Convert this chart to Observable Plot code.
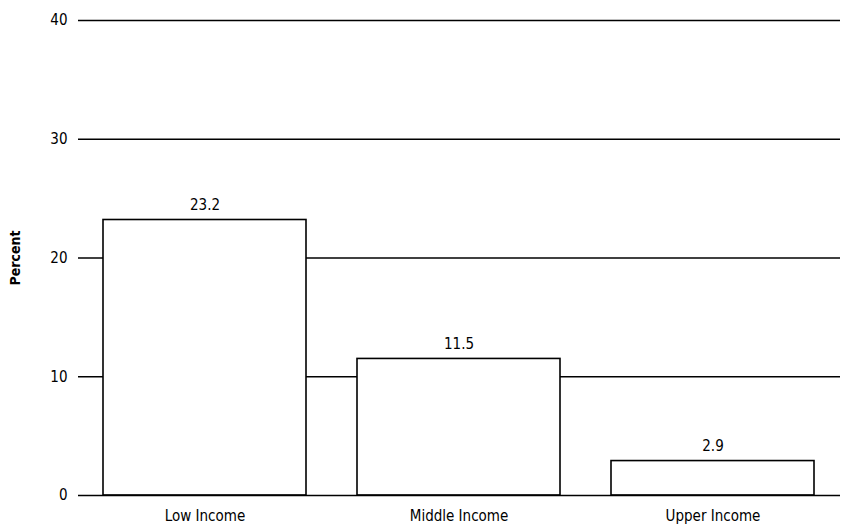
<!DOCTYPE html>
<html>
<head>
<meta charset="utf-8">
<script src="https://cdn.jsdelivr.net/npm/d3@7"></script>
<script src="https://cdn.jsdelivr.net/npm/@observablehq/plot@0.6"></script>
<style>
  html, body { margin: 0; padding: 0; background: #fff; }
</style>
</head>
<body>
<div id="chart"></div>
<script>
// Share of households by income group
const categories = ["Low Income", "Middle Income", "Upper Income"];
const percents = [23.2, 11.5, 2.9];
const yTicks = [0, 10, 20, 30, 40];
const gridLines = [10, 20, 30, 40];

const rows = categories.map((c, i) => ({ group: c, value: percents[i] }));

const chart = Plot.plot({
  width: 847,
  height: 528,
  marginLeft: 78,
  marginRight: 7,
  marginTop: 20,
  marginBottom: 33,
  style: {
    fontFamily: "'Liberation Sans Narrow', 'DejaVu Sans Condensed', sans-serif",
    fontSize: "15px",
    color: "#000",
    background: "#fff"
  },
  x: {
    domain: categories,
    paddingInner: 0.2,
    paddingOuter: 0.1,
    label: null,
    tickSize: 0,
    tickPadding: 15
  },
  y: {
    domain: [0, 40],
    ticks: yTicks,
    tickSize: 0,
    tickPadding: 11,
    label: "Percent",
    labelAnchor: "center",
    labelArrow: "none",
    labelOffset: 68
  },
  marks: [
    Plot.ruleY(gridLines, { stroke: "#000", strokeWidth: 1.4 }),
    Plot.barY(rows, {
      x: "group",
      y: "value",
      fill: "#fff",
      stroke: "#000",
      strokeWidth: 1.6
    }),
    Plot.ruleY([0], { stroke: "#000", strokeWidth: 1.6 }),
    Plot.text(rows, {
      x: "group",
      y: "value",
      text: d => d.value.toFixed(1),
      dy: -15,
      fill: "#000",
      fontSize: 15
    })
  ]
});

// Bold axis title
const yLabel = chart.querySelector('[aria-label="y-axis label"] text');
if (yLabel) {
  yLabel.setAttribute("font-weight", "bold");
  yLabel.setAttribute("font-size", "14");
}

document.getElementById("chart").appendChild(chart);
</script>
</body>
</html>
